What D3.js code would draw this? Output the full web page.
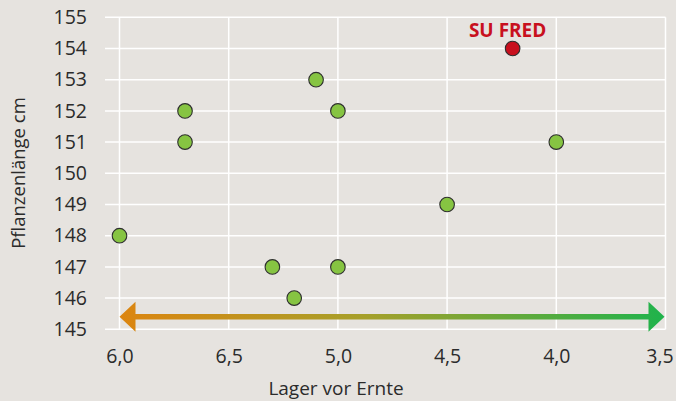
<!DOCTYPE html>
<html>
<head>
<meta charset="utf-8">
<script src="https://cdn.jsdelivr.net/npm/d3@7"></script>
<style>
  body { margin: 0; background: #e6e3df; }
  svg { display: block; font-family: "Open Sans", sans-serif; }
</style>
</head>
<body>
<svg id="chart" width="676" height="401"></svg>
<script>
// data
var lager = [6.0, 5.7, 5.7, 5.1, 5.0, 5.3, 5.2, 5.0, 4.5, 4.0]
var laenge = [148, 152, 151, 153, 152, 147, 146, 147, 149, 151]
var highlightName = 'SU FRED'
var highlightLager = [4.2]
var highlightLaenge = [154]
var xTicks = [6.0, 5.5, 5.0, 4.5, 4.0, 3.5]
var xTickLabels = ['6,0', '6,5', '5,0', '4,5', '4,0', '3,5']   // as printed
var yTicks = [145, 146, 147, 148, 149, 150, 151, 152, 153, 154, 155]

const svg = d3.select('#chart')

// x axis runs backwards (6 -> 3.5)
var x = d3.scaleLinear().domain([6.0, 3.5]).range([119.5, 665.5])
var y = d3.scaleLinear().domain([145, 155]).range([329.3, 17.3])
var left = 105

// grid
svg.selectAll('.hgrid').data(yTicks).enter().append('line')
    .attr('x1', left).attr('x2', x(3.5))
    .attr('y1', d => y(d)).attr('y2', d => y(d))
    .attr('stroke', '#fff').attr('stroke-width', 1.5)
svg.selectAll('.vgrid').data(xTicks).enter().append('line')
    .attr('x1', d => x(d)).attr('x2', d => x(d))
    .attr('y1', y(155)).attr('y2', y(145))
    .attr('stroke', '#fff').attr('stroke-width', 1.5)

// axes (labels only)
var yAxis = svg.append('g').attr('transform', 'translate(' + 87 + ',0)')
    .call(d3.axisLeft(y).tickValues(yTicks).tickSize(0).tickPadding(0).tickFormat(d3.format('d')))
yAxis.select('.domain').remove()
yAxis.selectAll('text').attr('font-size', 19.5).attr('fill', '#2b2b2b').attr('font-family', '"Open Sans", sans-serif')

var xAxis = svg.append('g').attr('transform', 'translate(0,' + 349 + ')')
    .call(d3.axisBottom(x).tickValues(xTicks).tickSize(0).tickPadding(0).tickFormat((d, i) => xTickLabels[i]))
xAxis.select('.domain').remove()
xAxis.selectAll('text').attr('font-size', 19.5).attr('fill', '#2b2b2b').attr('font-family', '"Open Sans", sans-serif')
// last label sits against the right edge
xAxis.selectAll('text').filter((d, i) => i === xTicks.length - 1).attr('dx', -6)

// titles
svg.append('text').text('Lager vor Ernte')
    .attr('x', 336).attr('y', 395).attr('text-anchor', 'middle')
    .attr('font-size', 19).attr('fill', '#2b2b2b')
svg.append('text').text('Pflanzenlänge cm')
    .attr('transform', 'translate(25,173) rotate(-90)').attr('text-anchor', 'middle')
    .attr('font-size', 18.5).attr('fill', '#2b2b2b')

// gradient arrow
var defs = svg.append('defs')
var grad = defs.append('linearGradient').attr('id', 'arrowGrad')
    .attr('gradientUnits', 'userSpaceOnUse')
    .attr('x1', x(6.0)).attr('x2', x(3.5)).attr('y1', 0).attr('y2', 0)
grad.append('stop').attr('offset', '0%').attr('stop-color', '#dc8510')
grad.append('stop').attr('offset', '45%').attr('stop-color', '#a6a02a')
grad.append('stop').attr('offset', '100%').attr('stop-color', '#1fb34c')

var ay = 316.7
var headLen = 16, headH = 15, shaft = 2.8
var x0 = x(6.0), x1 = x(3.5) - 1
svg.append('path')
    .attr('d', 'M' + x0 + ',' + ay +
        'L' + (x0 + headLen) + ',' + (ay - headH) +
        'L' + (x0 + headLen) + ',' + (ay - shaft) +
        'L' + (x1 - headLen) + ',' + (ay - shaft) +
        'L' + (x1 - headLen) + ',' + (ay - headH) +
        'L' + x1 + ',' + ay +
        'L' + (x1 - headLen) + ',' + (ay + headH) +
        'L' + (x1 - headLen) + ',' + (ay + shaft) +
        'L' + (x0 + headLen) + ',' + (ay + shaft) +
        'L' + (x0 + headLen) + ',' + (ay + headH) + 'Z')
    .attr('fill', 'url(#arrowGrad)')

// points
svg.selectAll('.pt').data(lager).enter().append('circle')
    .attr('cx', d => x(d))
    .attr('cy', (d, i) => y(laenge[i]))
    .attr('r', 7.3)
    .attr('fill', '#86c442')
    .attr('stroke', '#2e2e2e').attr('stroke-width', 1.1)

svg.selectAll('.hl').data(highlightLager).enter().append('circle')
    .attr('cx', d => x(d))
    .attr('cy', (d, i) => y(highlightLaenge[i]))
    .attr('r', 7.3)
    .attr('fill', '#c8101e')
    .attr('stroke', '#2e2e2e').attr('stroke-width', 1.1)

svg.append('text').text(highlightName)
    .attr('x', x(highlightLager[0]) - 5).attr('y', y(highlightLaenge[0]) - 12)
    .attr('text-anchor', 'middle')
    .attr('font-size', 19).attr('font-weight', 'bold').attr('fill', '#c8101e')
</script>
</body>
</html>
